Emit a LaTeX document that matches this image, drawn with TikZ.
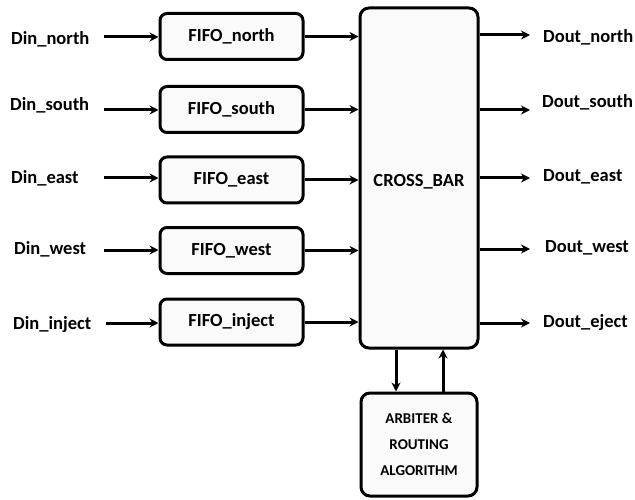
\documentclass[tikz,border=0pt]{standalone}
\usepackage{fontspec}
\setmainfont{Carlito}
\usetikzlibrary{arrows.meta}
\begin{document}
\begin{tikzpicture}[x=1pt,y=-1pt,
  box/.style={draw=black,line width=3pt,fill=gray!4,rounded corners=7pt,inner sep=0pt,
    font=\fontsize{18.5}{20}\selectfont\bfseries},
  lbl/.style={anchor=base west,inner sep=0pt,font=\fontsize{18.5}{20}\selectfont\bfseries},
  arr/.style={line width=3pt,-{Stealth[length=9pt,width=9pt]}}]
\useasboundingbox (0,0) rectangle (635,500);
% input labels
\node[lbl] (dinN) at (11,45) {Din\_north};
\node[lbl] (dinS) at (10,111) {Din\_south};
\node[lbl] (dinE) at (11,184) {Din\_east};
\node[lbl] (dinW) at (14,254) {Din\_west};
\node[lbl] (dinI) at (13,329) {Din\_inject};
% FIFOs
\node[box,minimum width=143pt,minimum height=46pt] (fN) at (231.5,36.5) {FIFO\_north};
\node[box,minimum width=143pt,minimum height=46pt] (fS) at (231.5,109.5) {FIFO\_south};
\node[box,minimum width=143pt,minimum height=46pt] (fE) at (231.5,180) {FIFO\_east};
\node[box,minimum width=143pt,minimum height=46pt] (fW) at (231.5,250.5) {FIFO\_west};
\node[box,minimum width=143pt,minimum height=46pt] (fI) at (231.5,322) {FIFO\_inject};
% crossbar
\node[box,minimum width=118pt,minimum height=340pt,rounded corners=9pt] (cb) at (419,178) {};
\node[inner sep=0pt,font=\fontsize{18.5}{20}\selectfont\bfseries] (cbt) at (419,182) {CROSS\_BAR};
% arbiter
\node[box,minimum width=116pt,minimum height=103pt,rounded corners=9pt,align=center,
  font=\fontsize{15}{26}\selectfont\bfseries] (arb) at (419,444.5) {ARBITER \&\\ROUTING\\ALGORITHM};
% output labels
\node[lbl] (doN) at (543,43) {Dout\_north};
\node[lbl] (doS) at (542,108) {Dout\_south};
\node[lbl] (doE) at (543,182) {Dout\_east};
\node[lbl] (doW) at (545,252) {Dout\_west};
\node[lbl] (doJ) at (543,327) {Dout\_eject};
% free ends
\coordinate (sN) at (104,37);
\coordinate (sS) at (104,110);
\coordinate (sE) at (104,178);
\coordinate (sW) at (104,250);
\coordinate (sI) at (106,323);
\coordinate (oN) at (530,35);
\coordinate (oS) at (530,110);
\coordinate (oE) at (530,178);
\coordinate (oW) at (530,249);
\coordinate (oJ) at (530,323);
\coordinate (xd) at (396,0);
\coordinate (xu) at (443,0);
% input arrows
\draw[arr] (sN) -- (sN -| fN.west);
\draw[arr] (sS) -- (sS -| fS.west);
\draw[arr] (sE) -- (sE -| fE.west);
\draw[arr] (sW) -- (sW -| fW.west);
\draw[arr] (sI) -- (sI -| fI.west);
% fifo to crossbar
\draw[arr] (fN.east) -- (fN.east -| cb.west);
\draw[arr] (fS.east) -- (fS.east -| cb.west);
\draw[arr] (fE.east) -- (fE.east -| cb.west);
\draw[arr] (fW.east) -- (fW.east -| cb.west);
\draw[arr] (fI.east) -- (fI.east -| cb.west);
% outputs
\draw[arr] (oN -| cb.east) -- (oN);
\draw[arr] (oS -| cb.east) -- (oS);
\draw[arr] (oE -| cb.east) -- (oE);
\draw[arr] (oW -| cb.east) -- (oW);
\draw[arr] (oJ -| cb.east) -- (oJ);
% crossbar <-> arbiter
\draw[arr] (cb.south -| xd) -- (arb.north -| xd);
\draw[arr] (arb.north -| xu) -- (cb.south -| xu);
\end{tikzpicture}
\end{document}
